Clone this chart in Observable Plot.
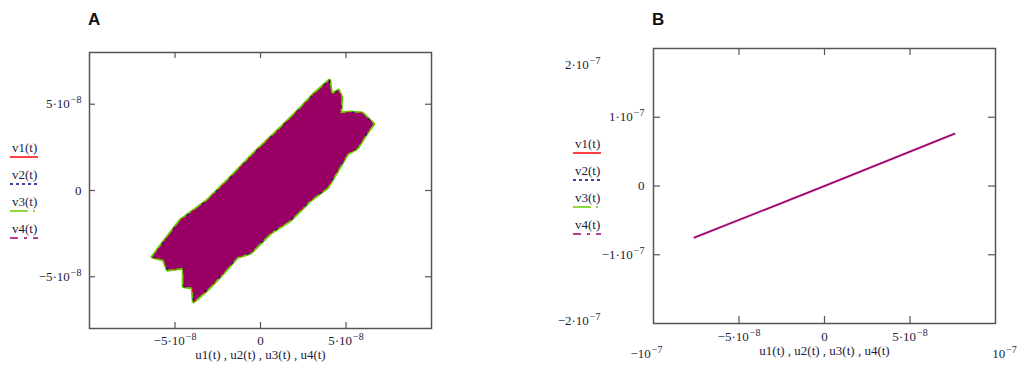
<!DOCTYPE html>
<html><head><meta charset="utf-8">
<script src="https://cdn.jsdelivr.net/npm/d3@7"></script>
<script src="https://cdn.jsdelivr.net/npm/@observablehq/plot@0.6"></script>
<style>
body{margin:0;background:#fff;width:1019px;height:370px;position:relative;overflow:hidden;}
.panel{position:absolute;top:0;}
.plabel{position:absolute;font:bold 17px "Liberation Sans",Arial,sans-serif;color:#111;line-height:1;}
.leg{position:absolute;font:13px "Liberation Serif","Times New Roman",serif;color:#1c1c3c;line-height:1;}
</style></head><body>
<div class="plabel" style="left:88px;top:11px">A</div>
<div class="plabel" style="left:652px;top:11px">B</div>
<div id="A" class="panel" style="left:0px"></div>
<div id="B" class="panel" style="left:520px"></div>
<script>
// ---- data ----
const seriesNames = ["v1(t)", "v2(t)", "v3(t)", "v4(t)"];
const seriesColors = ["#ff0000", "#000080", "#66cc00", "#990066"];
const seriesDash = ["none", "3,3", "18,5,2,5", "8,6,3,6"];
const xAxisLabel = "u1(t) , u2(t) , u3(t) , u4(t)";

// Panel A: outline of the dense trajectory band (units of 1e-8)
const bandX = [4.03,4.15,4.56,4.74,4.68,5.26,5.96,6.61,6.26,5.67,5.09,3.92,2.92,1.75,0.58,-0.58,-1.34,-2.16,-2.92,-3.63,-3.92,-3.98,-4.50,-4.50,-5.44,-5.67,-6.32,-6.02,-5.67,-4.68,-3.10,-1.75,-0.41,1.17,2.34,3.10];
const bandY = [6.38,5.57,5.80,5.40,4.48,4.54,4.48,3.85,3.39,2.47,2.13,0.17,-0.57,-1.72,-2.47,-3.62,-3.85,-4.77,-5.57,-6.21,-6.44,-5.63,-5.57,-4.48,-4.60,-4.02,-3.85,-3.45,-2.99,-1.72,-0.57,0.75,2.13,3.62,4.77,5.57];
const xTicksA = [-5e-8, 0, 5e-8];
const xTickLabelsA = ["−5·10⁻⁸", "0", "5·10⁻⁸"];
const yTicksA = [-5e-8, 0, 5e-8];
const yTickLabelsA = ["−5·10⁻⁸", "0", "5·10⁻⁸"];

// Panel B: straight line trajectory
const lineX = [-7.6e-8, 0, 7.6e-8];
const lineY = [-7.5e-8, 0, 7.6e-8];
const xTicksB = [-5e-8, 0, 5e-8];
const xTickLabelsB = ["−5·10⁻⁸", "0", "5·10⁻⁸"];
const yTicksB = [-1e-7, 0, 1e-7];
const yTickLabelsB = ["−1·10⁻⁷", "0", "1·10⁻⁷"];
const xLimitsB = [-1e-7, 1e-7];
const xLimitLabelsB = ["−10⁻⁷", "10⁻⁷"];
const yLimitTopB = [2e-7];
const yLimitTopLabelB = ["2·10⁻⁷"];
const yLimitBottomB = [-2e-7];
const yLimitBottomLabelB = ["−2·10⁻⁷"];

// ---- build ----
const band = bandX.map((x, i) => ({x: x * 1e-8, y: bandY[i] * 1e-8}));
const lineData = lineX.map((x, i) => ({x, y: lineY[i]}));
const frameColor = "#555";
const textColor = "#1c1c3c";
const serif = "Liberation Serif, Times New Roman, serif";
const mapOf = (ticks, labels) => new Map(ticks.map((t, i) => [t, labels[i]]));

function ticksMarks(xt, yt, pw, ph, len) {
  return [
    Plot.tickX(xt, {x: d => d, insetTop: ph - len, stroke: frameColor, strokeWidth: 1.2}),
    Plot.tickX(xt, {x: d => d, insetBottom: ph - len, stroke: frameColor, strokeWidth: 1.2}),
    Plot.tickY(yt, {y: d => d, insetRight: pw - len, stroke: frameColor, strokeWidth: 1.2}),
    Plot.tickY(yt, {y: d => d, insetLeft: pw - len, stroke: frameColor, strokeWidth: 1.2})
  ];
}

// turn unicode superscript exponents into raised tspans (Mathcad style)
const supMap = {"⁰":"0","¹":"1","²":"2","³":"3","⁴":"4","⁵":"5","⁶":"6","⁷":"7","⁸":"8","⁹":"9","⁻":"−"};
function raiseExponents(svg) {
  svg.querySelectorAll("text").forEach(t => {
    const targets = t.querySelectorAll("tspan").length ? [...t.querySelectorAll("tspan")] : [t];
    targets.forEach(el => {
      const s = el.textContent;
      const k = s.indexOf("⁻");
      if (k < 0) return;
      const base = s.slice(0, k);
      const exp = [...s.slice(k)].map(c => supMap[c] ?? c).join("");
      el.textContent = base;
      const sp = document.createElementNS("http://www.w3.org/2000/svg", "tspan");
      sp.setAttribute("dy", "-0.5em");
      sp.setAttribute("dx", "1");
      sp.setAttribute("font-size", "10");
      sp.textContent = exp;
      el.appendChild(sp);
    });
  });
}

// Panel A
{
  const W = 460, H = 370, mL = 89, mR = 29, mT = 52, mB = 42;
  const pw = W - mL - mR, ph = H - mT - mB;
  const xm = mapOf(xTicksA, xTickLabelsA), ym = mapOf(yTicksA, yTickLabelsA);
  const plot = Plot.plot({
    width: W, height: H, marginLeft: mL, marginRight: mR, marginTop: mT, marginBottom: mB,
    x: {domain: [-1e-7, 1e-7]},
    y: {domain: [-8e-8, 8e-8]},
    style: {fontFamily: serif, fontSize: "13px", color: textColor, background: "transparent", overflow: "visible"},
    marks: [
      Plot.line(band, {x: "x", y: "y", curve: "linear-closed", stroke: seriesColors[2], strokeWidth: 3.6, fill: seriesColors[2]}),
      Plot.line(band, {x: "x", y: "y", curve: "linear-closed", stroke: seriesColors[0], strokeWidth: 1.4, strokeDasharray: "2,11"}),
      Plot.line(band, {x: "x", y: "y", curve: "linear-closed", stroke: seriesColors[1], strokeWidth: 1.4, strokeDasharray: "2,17"}),
      Plot.line(band, {x: "x", y: "y", curve: "linear-closed", stroke: "none", fill: seriesColors[3]}),
      ...ticksMarks(xTicksA, yTicksA, pw, ph, 6),
      Plot.frame({stroke: frameColor, strokeWidth: 1.5}),
      Plot.axisX(xTicksA, {tickSize: 0, tickPadding: 7, tickFormat: d => xm.get(d), label: null, fontSize: 13}),
      Plot.axisY(yTicksA, {tickSize: 0, tickPadding: 8, tickFormat: d => ym.get(d), label: null, fontSize: 13}),
      Plot.text([xAxisLabel], {text: d => d, frameAnchor: "bottom", dy: 30, fontSize: 13, fill: textColor})
    ]
  });
  raiseExponents(plot);
  document.getElementById("A").appendChild(plot);
}

// Panel B
{
  const W = 499, H = 370, mL = 133, mR = 24, mT = 48, mB = 47;
  const pw = W - mL - mR, ph = H - mT - mB;
  const xm = mapOf(xTicksB, xTickLabelsB), ym = mapOf(yTicksB, yTickLabelsB);
  const plot = Plot.plot({
    width: W, height: H, marginLeft: mL, marginRight: mR, marginTop: mT, marginBottom: mB,
    x: {domain: [-1e-7, 1e-7]},
    y: {domain: [-2e-7, 2e-7]},
    style: {fontFamily: serif, fontSize: "13px", color: textColor, background: "transparent", overflow: "visible"},
    marks: [
      Plot.line(lineData, {x: "x", y: "y", stroke: "#eab0dc", strokeWidth: 2.6}),
      Plot.line(lineData, {x: "x", y: "y", stroke: seriesColors[3], strokeWidth: 1.6}),
      ...ticksMarks(xTicksB, yTicksB, pw, ph, 7),
      Plot.frame({stroke: frameColor, strokeWidth: 1.5}),
      Plot.axisX(xTicksB, {tickSize: 0, tickPadding: 8, tickFormat: d => xm.get(d), label: null, fontSize: 13}),
      Plot.axisY(yTicksB, {tickSize: 0, tickPadding: 9, tickFormat: d => ym.get(d), label: null, fontSize: 13}),
      Plot.text([xAxisLabel], {text: d => d, frameAnchor: "bottom", dy: 31, fontSize: 13, fill: textColor}),
      Plot.text([xLimitsB[0]], {x: d => d, text: () => xLimitLabelsB[0], frameAnchor: "bottom", dy: 34, dx: -7, fontSize: 13, fill: textColor}),
      Plot.text([xLimitsB[1]], {x: d => d, text: () => xLimitLabelsB[1], frameAnchor: "bottom", dy: 34, dx: 9, fontSize: 13, fill: textColor}),
      Plot.text(yLimitTopB, {y: d => d, text: (d, i) => yLimitTopLabelB[i], frameAnchor: "left", textAnchor: "end", dx: -53, dy: 16, fontSize: 13, fill: textColor}),
      Plot.text(yLimitBottomB, {y: d => d, text: (d, i) => yLimitBottomLabelB[i], frameAnchor: "left", textAnchor: "end", dx: -53, dy: -3, fontSize: 13, fill: textColor})
    ]
  });
  raiseExponents(plot);
  document.getElementById("B").appendChild(plot);
}

// Legends (HTML)
function legend(left, top0, step) {
  seriesNames.forEach((name, i) => {
    const t = document.createElement("div");
    t.className = "leg";
    t.style.left = (left + 2) + "px";
    t.style.top = (top0 + i * step) + "px";
    t.textContent = name;
    document.body.appendChild(t);
    const s = document.createElementNS("http://www.w3.org/2000/svg", "svg");
    s.setAttribute("width", 30); s.setAttribute("height", 4);
    s.style.position = "absolute"; s.style.left = left + "px"; s.style.top = (top0 + i * step + 14) + "px";
    const l = document.createElementNS("http://www.w3.org/2000/svg", "line");
    l.setAttribute("x1", 0); l.setAttribute("x2", 28); l.setAttribute("y1", 2); l.setAttribute("y2", 2);
    l.setAttribute("stroke", seriesColors[i]); l.setAttribute("stroke-width", 1.5);
    if (seriesDash[i] !== "none") l.setAttribute("stroke-dasharray", seriesDash[i]);
    s.appendChild(l);
    document.body.appendChild(s);
  });
}
legend(10, 141, 27);
legend(573, 137, 27);
</script>
</body></html>
